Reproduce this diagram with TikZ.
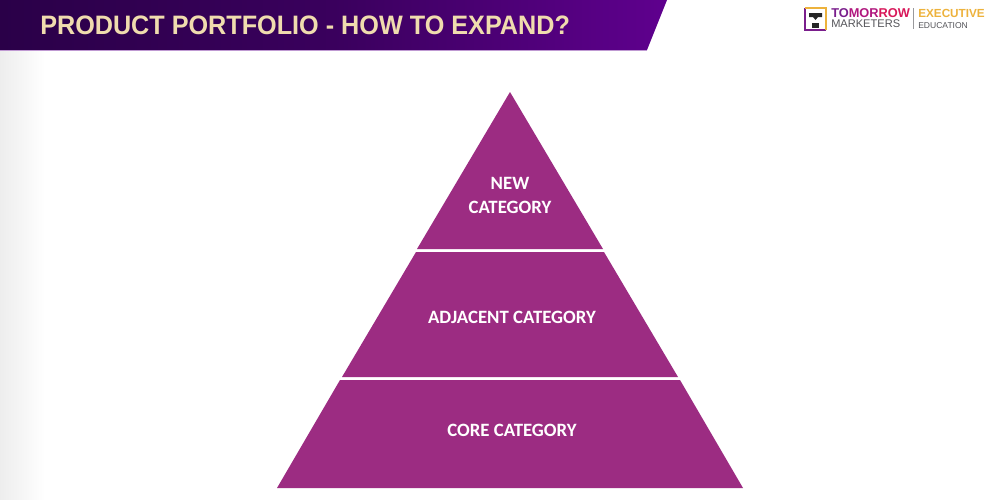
\documentclass[tikz,border=0pt]{standalone}
\usepackage{xcolor}
\usepackage{fontspec}
\setmainfont{Carlito}
\newfontfamily\titlefont{Liberation Sans}
\usetikzlibrary{shadings}
\definecolor{bandpurple}{HTML}{9C2C82}
\definecolor{bardark}{HTML}{2A0048}
\definecolor{barlight}{HTML}{5F008E}
\definecolor{titlecream}{HTML}{F0DCAE}
\definecolor{logopurple}{HTML}{7A1E8C}
\definecolor{logomagenta}{HTML}{B0187E}
\definecolor{logored}{HTML}{D8185A}
\definecolor{logogrey}{HTML}{55555A}
\definecolor{logogold}{HTML}{EDB23C}

\begin{document}
\begin{tikzpicture}[
    x=0.75pt, y=-0.75pt,
    band/.style={fill=bandpurple},
    bandtext/.style={text=white, align=center, font=\fontsize{14.1}{18}\selectfont\bfseries},
    logotext/.style={anchor=west, inner sep=0pt, font=\titlefont\fontsize{#1}{#1}\selectfont}
]
    \useasboundingbox (0,0) rectangle (1000,500);
    \fill[white] (0,0) rectangle (1000,500);
    % soft shade on the left edge
    \shade[left color=black!7, right color=white] (0,51) rectangle (45,500);

    % title bar
    \shade[left color=bardark, right color=barlight, middle color=bardark!70!barlight]
        (0,0) -- (667,0) -- (647,50) -- (0,50) -- cycle;
    \draw[barlight!40, line width=0.5pt] (0,50.5) -- (647,50.5);
    \node[anchor=west, inner sep=0pt, xscale=0.945, text=titlecream, font=\titlefont\fontsize{20}{22}\selectfont\bfseries] (title) at (40,25.5) {PRODUCT PORTFOLIO - HOW TO EXPAND?};

    % pyramid
    \fill[band] (510,92) -- (603,249) -- (417,249) -- cycle;
    \fill[band] (416,252) -- (604,252) -- (678,377) -- (342,377) -- cycle;
    \fill[band] (340,380) -- (680,380) -- (743,488) -- (277,488) -- cycle;
    \node[bandtext] (newcat) at (510,195) {NEW\\CATEGORY};
    \node[bandtext] (adjacent) at (512,317) {ADJACENT CATEGORY};
    \node[bandtext] (core) at (512,430) {CORE CATEGORY};

    % logo
    \draw[logopurple, line width=0.8pt] (826,30) -- (805,30) -- (805,8);
    \draw[logogold, line width=0.8pt] (805,8) -- (826,8) -- (826,30);
    \fill[black!85] (809,13) -- (822,13) -- (822,17) -- (818,17) -- (815.5,20) -- (813,17) -- (809,17) -- cycle;
    \fill[black!85] (812,23) rectangle (819,28);
    \node[logotext=9.6, text=logopurple] (tomorrow) at (831,13) {\bfseries TO\textcolor{logomagenta}{MOR}\textcolor{logored}{ROW}};
    \node[logotext=8.3, text=logogrey] (marketers) at (831,23.5) {MARKETERS};
    \draw[logogrey!60, line width=0.4pt] (913.5,8) -- (913.5,29);
    \node[logotext=8.8, text=logogold] (executive) at (918,13) {\bfseries EXECUTIVE};
    \node[logotext=6.4, text=logogrey] (education) at (918,25.5) {EDUCATION};
\end{tikzpicture}
\end{document}
